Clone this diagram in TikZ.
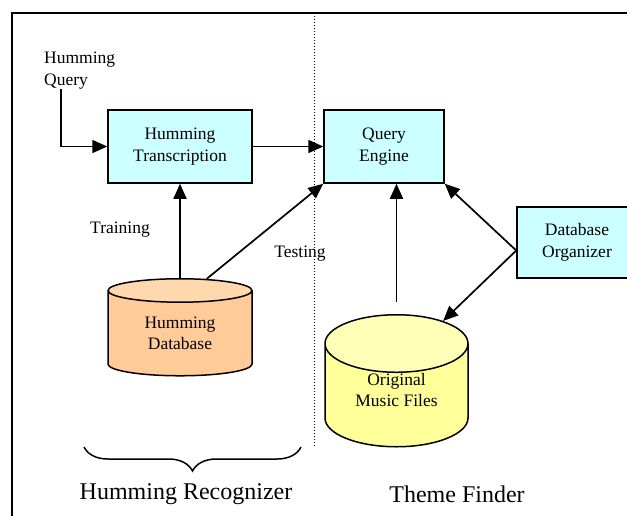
\documentclass[tikz,border=0pt]{standalone}
\usepackage{fontspec}
\setmainfont{Liberation Serif}
\usetikzlibrary{positioning, arrows.meta, calc, shapes.geometric}
\usetikzlibrary{decorations.pathreplacing}

\definecolor{boxcyan}{HTML}{CCFFFF}
\definecolor{hdbbody}{HTML}{FFCC99}
\definecolor{hdbtop}{HTML}{FFD9AD}
\definecolor{omfbody}{HTML}{FFFF99}
\definecolor{omftop}{HTML}{FFFFB8}

\begin{document}
\begin{tikzpicture}[x=1pt, y=-1pt, >={Triangle[length=15pt,width=13pt]},
    box/.style={draw, line width=1.5pt, fill=boxcyan, inner sep=0pt,
                minimum height=73pt, align=center, font=\fontsize{17.5}{21.5}\selectfont},
    dbase/.style={draw, line width=1.5pt, cylinder, shape border rotate=90,
                  cylinder uses custom fill, inner sep=0pt, align=center,
                  font=\fontsize{17.5}{21.5}\selectfont},
    lbl/.style={align=left, inner sep=0pt, font=\fontsize{17.5}{21.5}\selectfont},
    part/.style={inner sep=0pt, font=\fontsize{24}{28}\selectfont},
    conn/.style={->, line width=1.7pt}]
    \useasboundingbox (0,0) rectangle (627,515);
    % frame and split between the two parts
    \draw[line width=2pt] (12,520) -- (12,13) -- (632,13);
    \draw[dotted, line width=1pt] (314,13) -- (314,447);

    \node[box, minimum width=144pt] (trans) at (180,146.5) {Humming\\Transcription};
    \node[box, minimum width=120pt] (qe) at (384,146.5) {Query\\Engine};
    \node[box, minimum width=120pt, minimum height=71pt] (dbo) at (577,242.5) {Database\\Organizer};
    \node[dbase, minimum width=144pt, minimum height=97pt, aspect=0.33,
          cylinder end fill=hdbtop, cylinder body fill=hdbbody] (hdb) at (180,333.5) {Humming\\Database};
    \node[dbase, minimum width=143pt, minimum height=132pt, aspect=0.7, text depth=11pt,
          cylinder end fill=omftop, cylinder body fill=omfbody] (omf) at (396.5,395.5) {Original\\Music Files};

    \node[lbl, anchor=north west] (hq) at (44,52) {Humming\\Query};
    \node[lbl] (train) at (120,230) {Training};
    \node[lbl] (test) at (300,254) {Testing};

    \draw[conn] ([xshift=17pt]hq.south west) |- (trans.west);
    \draw[conn] (trans) -- (qe);
    \draw[conn] (hdb.north) -- (trans.south);
    \draw[conn] (hdb.64) -- (qe.south west);
    \draw[conn] ([yshift=12pt]omf.north) -- (omf.north |- qe.south);
    \coordinate (org) at ([yshift=-8pt]dbo.west);
    \draw[conn] (org) -- (qe.south east);
    \draw[conn] (org) -- (omf.58);

    % the two parts
    \draw[line width=1.5pt, decorate, decoration={brace, mirror, amplitude=24pt}] (84,447) -- (301,447);
    \node[part] (hr) at (186,494) {Humming Recognizer};
    \node[part] (tf) at (457,494) {Theme Finder};
\end{tikzpicture}
\end{document}
